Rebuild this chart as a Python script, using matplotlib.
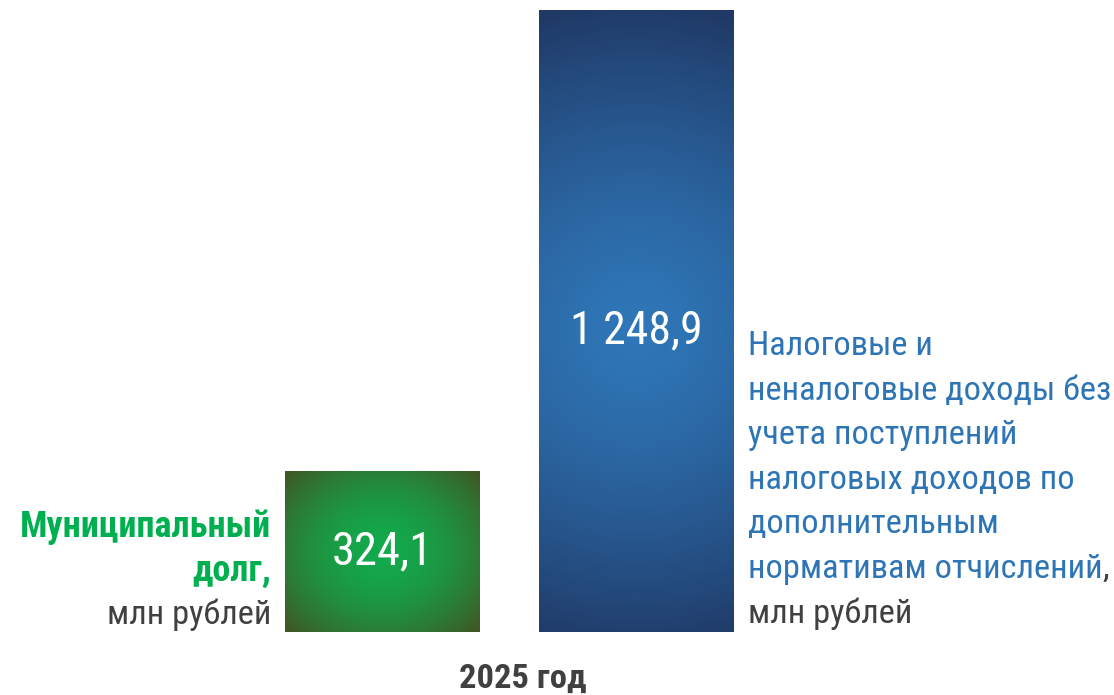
import numpy as np
import matplotlib
matplotlib.use("Agg")
import matplotlib.pyplot as plt
from matplotlib.colors import to_rgb

# Data
years = ["2025 год"]
categories = ["Муниципальный долг", "Налоговые и неналоговые доходы"]
values = [324.1, 1248.9]
value_labels = ["324,1", "1 248,9"]

W, H, DPI = 1114, 695, 100

plt.rcParams["font.family"] = ["Roboto Condensed", "PT Sans Narrow", "DejaVu Sans"]

fig = plt.figure(figsize=(W / DPI, H / DPI), dpi=DPI)
ax = fig.add_axes([0, 63 / H, 1, 622 / H])
ax.set_xlim(-1.509, 2.8856)
ax.set_ylim(0, values[1])
ax.axis("off")

x = np.arange(len(values))
bars = ax.bar(x, values, width=0.769, color="none", edgecolor="none")
fig.canvas.draw()


def gradient(bar, center, edge, cfrac, rx, ry, power):
    """Fill a bar with an elliptical radial gradient, clipped to the bar."""
    bb = bar.get_window_extent()
    wpx, hpx = int(round(bb.width)), int(round(bb.height))
    xs = np.linspace(-bb.width / 2, bb.width / 2, wpx)
    ys = np.linspace(bb.height, 0, hpx)  # top row first
    X, Y = np.meshgrid(xs, ys)
    cy = bb.height * (1 - cfrac)
    d = np.sqrt((X / rx) ** 2 + ((Y - cy) / ry) ** 2)
    t = np.clip(d, 0, 1) ** power
    c0, c1 = np.array(to_rgb(center)), np.array(to_rgb(edge))
    img = c0[None, None, :] * (1 - t[..., None]) + c1[None, None, :] * t[..., None]
    x0, y0 = bar.get_x(), bar.get_y()
    im = ax.imshow(img, extent=(x0, x0 + bar.get_width(), y0, y0 + bar.get_height()),
                   aspect="auto", interpolation="bilinear", zorder=1)
    im.set_clip_path(bar)


gradient(bars[0], "#12aa4c", "#3e5926", 0.5, 130, 112, 1.8)
gradient(bars[1], "#2f77b8", "#1f3763", 0.515, 330, 335, 1.4)

ax.text(x[0], values[0] * 0.5, value_labels[0], color="white", fontsize=33.5,
        ha="center", va="center", zorder=3)
ax.text(x[1], values[1] * 0.485, value_labels[1], color="white", fontsize=33,
        ha="center", va="center", zorder=3)

GREEN, GREY, BLUE = "#00b050", "#404040", "#2e75b6"
FS = 24.75
FSB = 26


def ftxt(px, py, s, **kw):
    return fig.text(px / W, 1 - py / H, s, **kw)


# left description
ftxt(271, 537, "Муниципальный", color=GREEN, fontsize=FSB, fontweight="bold",
     ha="right", va="baseline")
ftxt(271, 580.5, "долг,", color=GREEN, fontsize=FSB, fontweight="bold",
     ha="right", va="baseline")
ftxt(271, 624, "млн рублей", color=GREY, fontsize=FS, ha="right", va="baseline")

# right description
right_lines = ["Налоговые и", "неналоговые доходы без", "учета поступлений",
               "налоговых доходов по", "дополнительным", "нормативам отчислений"]
y0 = 355
pitch = 44.6
for i, s in enumerate(right_lines):
    t = ftxt(748, y0 + i * pitch, s, color=BLUE, fontsize=FS, ha="left", va="baseline")
fig.canvas.draw()
bb = t.get_window_extent()
fig.text(bb.x1 / W, 1 - (y0 + 5 * pitch) / H, ",", color=GREY, fontsize=FS,
         ha="left", va="baseline")
ftxt(748, y0 + 6 * pitch, "млн рублей", color=GREY, fontsize=FS, ha="left", va="baseline")

# year caption
fig.text(523 / W, 1 - 688 / H, years[0], color=GREY, fontsize=24.8, fontweight="bold",
         ha="center", va="baseline")

fig.savefig("out.png", dpi=DPI)
